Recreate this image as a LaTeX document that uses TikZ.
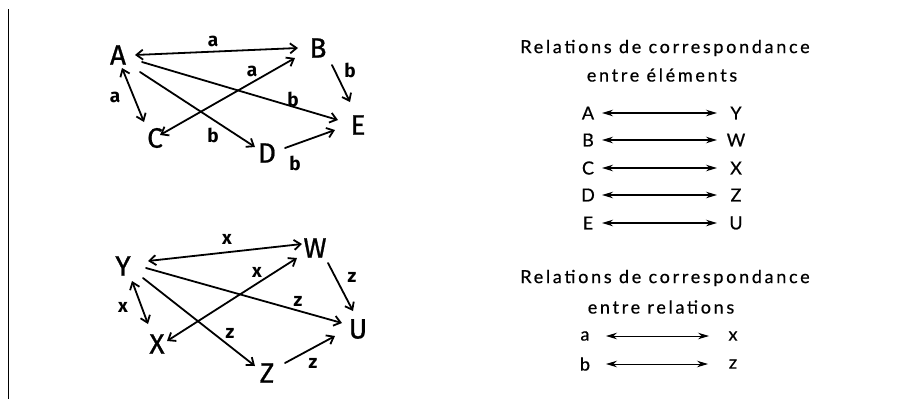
\documentclass[tikz,border=0pt]{standalone}
\usepackage{fontspec}
\setmainfont{Lato}
\newfontfamily\handfont[FakeBold=0.8]{Fira Sans}
\newfontfamily\handlab{Fira Sans}
\newfontfamily\listfont[LetterSpace=15,FakeBold=0.6]{Lato}
\newfontfamily\lstfont[FakeBold=0.6]{Lato}
\usetikzlibrary{arrows.meta}
\begin{document}
\begin{tikzpicture}[x=1pt,y=-1pt,
  big/.style={font=\handfont\fontsize{28}{28}\selectfont, inner sep=0pt},
  lab/.style={font=\handlab\bfseries\fontsize{19}{19}\selectfont, inner sep=0pt},
  hand/.style={line width=1.8pt, line cap=round},
  barb/.tip={Straight Barb[length=6.5pt,width=10pt,line width=1.8pt]},
  one/.style={hand,-barb},
  two/.style={hand,barb-barb},
  ttl/.style={font=\listfont\fontsize{18}{18}\selectfont, inner sep=0pt},
  lst/.style={font=\lstfont\fontsize{18}{18}\selectfont, inner sep=0pt},
  corr/.style={line width=1.2pt, {Stealth[length=11pt,width=6.5pt]}-{Stealth[length=11pt,width=6.5pt]}}
]
\useasboundingbox (0,0) rectangle (899,402);
\coordinate (ltop) at (8,9);
\coordinate (lbot) at (8,399);
\draw[line width=1pt] (ltop) -- (lbot);

% upper graph
\node[big] (A) at (118,55) {A};
\node[big] (B) at (318,48) {B};
\node[big] (C) at (155,138) {C};
\node[big] (D) at (267,153) {D};
\node[big] (E) at (358,125) {E};
\draw[two] ([shift={(17,0)}]A.center) -- ([shift={(-20,0)}]B.center);
\draw[two] ([shift={(4,13)}]A.center) -- ([shift={(-11,-16)}]C.center);
\draw[one] ([shift={(24,7)}]A.center) -- ([shift={(-20,-5)}]E.center);
\draw[one] ([shift={(22,17)}]A.center) -- ([shift={(-12,-6)}]D.center);
\draw[two] ([shift={(5,-3)}]C.center) -- ([shift={(-23,10)}]B.center);
\draw[one] ([shift={(14,17)}]B.center) -- ([shift={(-8,-23)}]E.center);
\draw[one] ([shift={(18,-5)}]D.center) -- ([shift={(-23,5)}]E.center);
\node[lab] (la1) at (213,41) {a};
\node[lab] (la2) at (115,97) {a};
\node[lab] (la3) at (252,71) {a};
\node[lab] (lb1) at (350,70) {b};
\node[lab] (lb2) at (293,99) {b};
\node[lab] (lb3) at (213,135) {b};
\node[lab] (lb4) at (295,163) {b};

% lower graph
\node[big] (Y) at (123,266) {Y};
\node[big] (W) at (315,248) {W};
\node[big] (U) at (358,329) {U};
\node[big] (X) at (157,344) {X};
\node[big] (Z) at (267,373) {Z};
\draw[two] ([shift={(25,-5)}]Y.center) -- ([shift={(-13,-4)}]W.center);
\draw[two] ([shift={(9,15)}]Y.center) -- ([shift={(-9,-20)}]X.center);
\draw[one] ([shift={(23,2)}]Y.center) -- ([shift={(-16,-6)}]U.center);
\draw[one] ([shift={(20,12)}]Y.center) -- ([shift={(-12,-7)}]Z.center);
\draw[two] ([shift={(10,-3)}]X.center) -- ([shift={(-18,10)}]W.center);
\draw[one] ([shift={(13,15)}]W.center) -- ([shift={(-5,-18)}]U.center);
\draw[one] ([shift={(18,-10)}]Z.center) -- ([shift={(-23,7)}]U.center);
\node[lab] (lx1) at (227,239) {x};
\node[lab] (lx2) at (123,307) {x};
\node[lab] (lx3) at (257,272) {x};
\node[lab] (lz1) at (352,277) {z};
\node[lab] (lz2) at (298,301) {z};
\node[lab] (lz3) at (230,333) {z};
\node[lab] (lz4) at (313,363) {z};

% right: correspondences between elements
\node[ttl] (t1) at (665,48) {Relations de correspondance};
\node[ttl] (t2) at (662,75) {entre éléments};
\foreach \l/\r/\y in {A/Y/113, B/W/140, C/X/168, D/Z/195, E/U/223}{
  \node[lst] (l\l) at (588,\y) {\l};
  \node[lst] (r\r) at (736,\y) {\r};
  \draw[corr] ([xshift=14pt]l\l.center) -- ([xshift=-19pt]r\r.center);
}
% right: correspondences between relations
\node[ttl] (t3) at (665,278) {Relations de correspondance};
\node[ttl] (t4) at (661,307) {entre relations};
\node[lst] (ra) at (585,336) {a};
\node[lst] (rx) at (733,336) {x};
\node[lst] (rb) at (585,364) {b};
\node[lst] (rz) at (733,364) {z};
\draw[corr, line width=0.9pt] ([xshift=21pt]ra.center) -- ([xshift=-24pt]rx.center);
\draw[corr, line width=0.9pt] ([xshift=21pt]rb.center) -- ([xshift=-25pt]rz.center);
\end{tikzpicture}
\end{document}
